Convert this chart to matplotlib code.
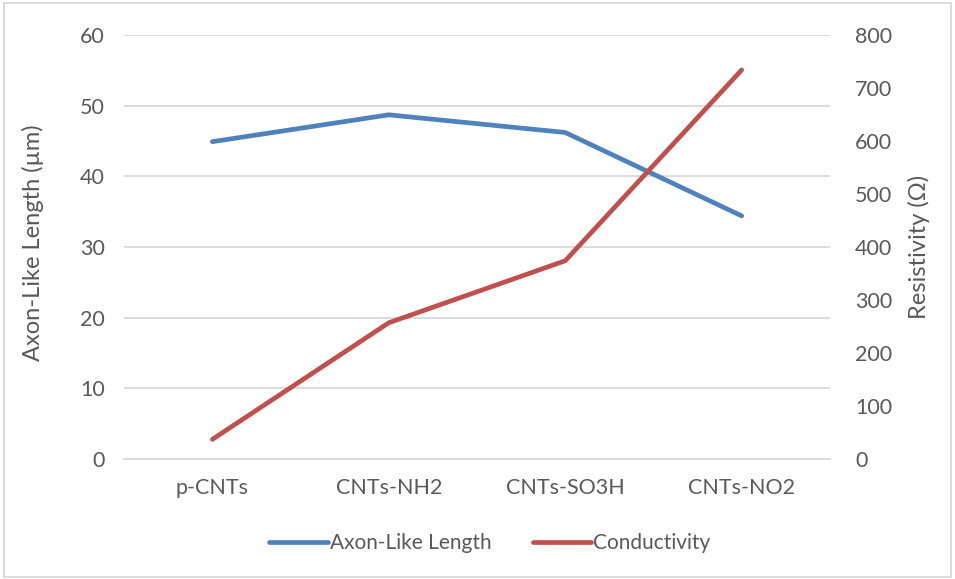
import numpy as np
import matplotlib
matplotlib.use("Agg")
from matplotlib import pyplot as plt
from matplotlib.patches import Rectangle

plt.rcParams['font.family'] = ['Lato', 'DejaVu Sans']

categories = ['p-CNTs', 'CNTs-NH2', 'CNTs-SO3H', 'CNTs-NO2']
axon_length = [44.9, 48.7, 46.2, 34.4]
resistivity = [37, 257, 374, 734]
left_ticks = [0, 10, 20, 30, 40, 50, 60]
right_ticks = [0, 100, 200, 300, 400, 500, 600, 700, 800]

text_col = '#595959'
grid_col = '#D9D9D9'

fig = plt.figure(figsize=(9.55, 5.79), dpi=100)
ax = fig.add_axes([0.13, 0.2073, 0.739, 0.7323])
ax2 = ax.twinx()

x = np.arange(len(categories))
l1, = ax.plot(x, axon_length, color='#4F81BD', lw=3.4, solid_capstyle='round',
              solid_joinstyle='round', label='Axon-Like Length', zorder=3)
l2, = ax2.plot(x, resistivity, color='#C0504D', lw=3.4, solid_capstyle='round',
               solid_joinstyle='round', label='Conductivity', zorder=3)

ax.set_xlim(-0.5, len(categories) - 0.5)
ax.set_ylim(0, 60)
ax2.set_ylim(0, 800)
ax.set_yticks(left_ticks)
ax2.set_yticks(right_ticks)
ax.set_xticks(x, categories)

ax.yaxis.grid(True, color=grid_col, lw=1.3)
ax.set_axisbelow(True)
for a in (ax, ax2):
    for s in a.spines.values():
        s.set_visible(False)
    a.tick_params(length=0, colors=text_col, labelsize=15.5)
ax.spines['bottom'].set_visible(True)
ax.spines['bottom'].set_color(grid_col)
ax.spines['bottom'].set_linewidth(1.3)
ax.tick_params(axis='y', pad=14)
ax.tick_params(axis='x', pad=14)
ax2.tick_params(axis='y', pad=18)

ax.set_ylabel('Axon-Like Length (µm)', color=text_col, fontsize=17)
ax.yaxis.set_label_coords(-0.113, 0.51)
ax2.set_ylabel('Resistivity (Ω)', color=text_col, fontsize=17)
ax2.yaxis.set_label_coords(1.110, 0.5)

fig.legend(handles=[l1, l2], loc='center', bbox_to_anchor=(0.513, 0.062), ncol=2,
           frameon=False, fontsize=15, labelcolor=text_col, handlelength=2.8,
           handletextpad=0.1, columnspacing=2.0)

fig.patches.append(Rectangle((0.004, 0.004), 0.992, 0.99, transform=fig.transFigure,
                             fill=False, edgecolor='#D9D9D9', lw=1.3))

fig.savefig('out.png', dpi=100)
plt.close(fig)
